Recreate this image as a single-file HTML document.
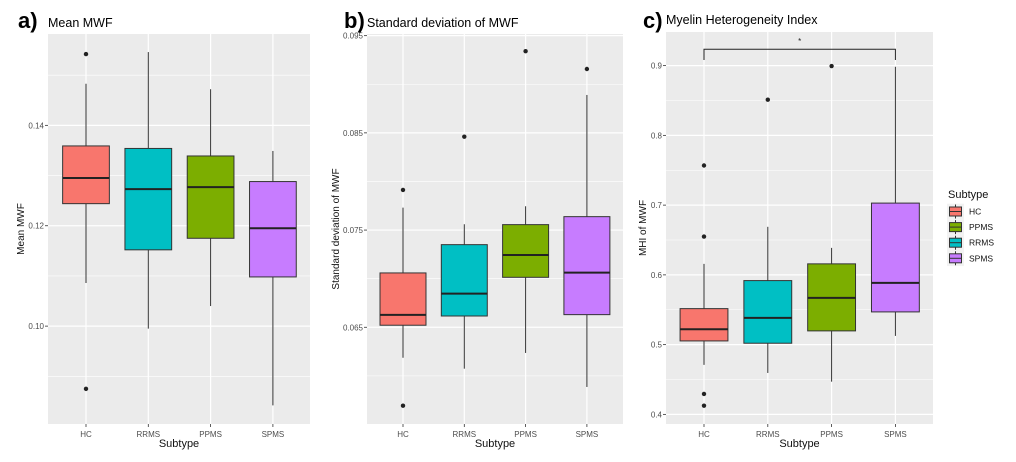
<!DOCTYPE html>
<html><head><meta charset="utf-8"><style>
body{margin:0;background:#fff;}
svg{display:block;font-family:"Liberation Sans",sans-serif;}
</style></head><body>
<svg id="chart" width="1016" height="462" viewBox="0 0 1016 462"></svg>
<script>
const categories = ["HC","RRMS","PPMS","SPMS"];
const colors = ["#F8766D","#00BFC4","#7CAE00","#C77CFF"];
// Panel a: Mean MWF  [low, q1, median, q3, high]
const statsA = [[0.1086,0.1244,0.1295,0.1359,0.1483],[0.0995,0.1152,0.1273,0.1354,0.1546],[0.1040,0.1175,0.1277,0.1339,0.1472],[0.0842,0.1098,0.1195,0.1288,0.1349]];
const outliersA = [[0.1542,0.0875],[],[],[]];
const ticksA = [0.10,0.12,0.14];
const tickLabelsA = ["0.10","0.12","0.14"];
// Panel b: SD of MWF
const statsB = [[0.06187,0.06521,0.06627,0.07059,0.07731],[0.06074,0.06616,0.06846,0.07350,0.07560],[0.06236,0.07014,0.07244,0.07556,0.07745],[0.05886,0.06630,0.07062,0.07638,0.08890]];
const outliersB = [[0.07913,0.05693],[0.08461],[0.09340],[0.09157]];
const ticksB = [0.065,0.075,0.085,0.095];
const tickLabelsB = ["0.065","0.075","0.085","0.095"];
// Panel c: MHI
const statsC = [[0.4709,0.5053,0.5221,0.5516,0.6158],[0.4594,0.5020,0.5383,0.5918,0.6689],[0.4469,0.5197,0.5670,0.6158,0.6387],[0.5125,0.5469,0.5885,0.7029,0.8984]];
const outliersC = [[0.7568,0.6549,0.4293,0.4125],[0.8511],[0.8994],[]];
const ticksC = [0.4,0.5,0.6,0.7,0.8,0.9];
const tickLabelsC = ["0.4","0.5","0.6","0.7","0.8","0.9"];
const legendOrder = ["HC","PPMS","RRMS","SPMS"];

const svg = document.getElementById('chart');
const NS = "http://www.w3.org/2000/svg";
function mk(tag, attrs, parent){const e=document.createElementNS(NS,tag);for(const k in attrs)e.setAttribute(k,attrs[k]);(parent||svg).appendChild(e);return e;}

function panel(p){
  const g = mk('g',{});
  
  
  const y = v => p.y1 - (v - p.vmin)/(p.vmax - p.vmin)*(p.y1 - p.y0);
  const x = i => p.xFirst + p.xStep*i;
  const bg = mk('rect',{x:p.x0,y:p.y0,width:p.x1-p.x0,height:p.y1-p.y0,fill:'#EBEBEB'},g);
  
  
  const tstep = p.ticks[1]-p.ticks[0];
  for(let v=p.ticks[0]-tstep/2; v<p.vmax; v+=tstep){ if(v>p.vmin) mk('line',{x1:p.x0,x2:p.x1,y1:y(v),y2:y(v),stroke:'#fff','stroke-width':0.6},g);}
  p.ticks.forEach((v,i)=>{
    mk('line',{x1:p.x0,x2:p.x1,y1:y(v),y2:y(v),stroke:'#fff','stroke-width':1.2},g);
    mk('line',{x1:p.x0-3,x2:p.x0,y1:y(v),y2:y(v),stroke:'#333','stroke-width':0.8},g);
    const t = mk('text',{x:p.x0-4,y:y(v)+3,'text-anchor':'end','font-size':8,fill:'#4D4D4D'},g);
    t.textContent = p.tickLabels[i];
    
    
  });
  categories.forEach((c,i)=>{
    mk('line',{x1:x(i),x2:x(i),y1:p.y0,y2:p.y1,stroke:'#fff','stroke-width':1.2},g);
    mk('line',{x1:x(i),x2:x(i),y1:p.y1,y2:p.y1+3,stroke:'#333','stroke-width':0.8},g);
    const t = mk('text',{x:x(i),y:p.y1+13,'text-anchor':'middle','font-size':8,fill:'#4D4D4D'},g);
    t.textContent = c;
    
    
  });
  const bw = p.xStep*0.75;
  p.stats.forEach((s,i)=>{
    const bg2 = mk('g',{},g);
    
    
    mk('line',{x1:x(i),x2:x(i),y1:y(s[0]),y2:y(s[1]),stroke:'#333','stroke-width':1},bg2);
    mk('line',{x1:x(i),x2:x(i),y1:y(s[3]),y2:y(s[4]),stroke:'#333','stroke-width':1},bg2);
    mk('rect',{x:x(i)-bw/2,y:y(s[3]),width:bw,height:y(s[1])-y(s[3]),fill:colors[i],stroke:'#333','stroke-width':1},bg2);
    mk('line',{x1:x(i)-bw/2,x2:x(i)+bw/2,y1:y(s[2]),y2:y(s[2]),stroke:'#222','stroke-width':2},bg2);
    p.outliers[i].forEach(o=>{
      const c = mk('circle',{cx:x(i),cy:y(o),r:2.2,fill:'#222'},bg2);
      
      
    });
  });
  const xt = mk('text',{x:(p.x0+p.x1)/2,y:p.y1+23,'text-anchor':'middle','font-size':11,fill:'#111'},g);
  xt.textContent='Subtype';
  
  
  const yt = mk('text',{x:0,y:0,'text-anchor':'middle','font-size':10,fill:'#111',transform:`translate(${p.yTitleX},${(p.y0+p.y1)/2}) rotate(-90)`},g);
  yt.textContent=p.yTitle;
  
  
  const lt = mk('text',{x:p.letterX,y:28,'font-size':22,fill:'#000','font-weight':'bold'},g);
  lt.textContent=p.letter;
  
  
  const tt = mk('text',{x:p.titleX,y:p.titleY,'font-size':12.5,fill:'#000'},g);
  tt.textContent=p.title;
  
  
  return {x,y,g};
}

panel({name:'panel-a',x0:48,x1:310,y0:34,y1:424,xFirst:86,xStep:62.3,vmin:0.0805,vmax:0.1582,ticks:ticksA,tickLabels:tickLabelsA,stats:statsA,outliers:outliersA,yTitle:'Mean MWF',yTitleX:24,letter:'a)',letterX:18,title:'Mean MWF',titleX:48,titleY:27});
panel({name:'panel-b',x0:367,x1:623,y0:34,y1:424,xFirst:403,xStep:61.3,vmin:0.05505,vmax:0.09517,ticks:ticksB,tickLabels:tickLabelsB,stats:statsB,outliers:outliersB,yTitle:'Standard deviation of MWF',yTitleX:339,letter:'b)',letterX:344,title:'Standard deviation of MWF',titleX:367,titleY:27});
const pc = panel({name:'panel-c',x0:666,x1:933,y0:32,y1:424,xFirst:704,xStep:63.8,vmin:0.3862,vmax:0.9482,ticks:ticksC,tickLabels:tickLabelsC,stats:statsC,outliers:outliersC,yTitle:'MHI of MWF',yTitleX:646,letter:'c)',letterX:643,title:'Myelin Heterogeneity Index',titleX:666,titleY:24});

const br = mk('path',{d:`M${pc.x(0)},60 V49.3 H${pc.x(3)} V60`,fill:'none',stroke:'#222','stroke-width':1});


const st = mk('text',{x:(pc.x(0)+pc.x(3))/2,y:44,'text-anchor':'middle','font-size':8,fill:'#222'});
st.textContent='*';



const lg = mk('g',{});


const ltitle = mk('text',{x:948,y:198,'font-size':11,fill:'#111'},lg);
ltitle.textContent='Subtype';


legendOrder.forEach((name,k)=>{
  const i = categories.indexOf(name);
  const cy = 211.5 + k*15.6;
  const e = mk('g',{},lg);
  
  
  mk('rect',{x:947,y:cy-7.8,width:17,height:15.6,fill:'#F2F2F2'},e);
  mk('line',{x1:955.5,x2:955.5,y1:cy-7,y2:cy+7,stroke:'#333','stroke-width':1},e);
  mk('rect',{x:949.5,y:cy-4.5,width:12,height:9,fill:colors[i],stroke:'#333','stroke-width':1},e);
  mk('line',{x1:949.5,x2:961.5,y1:cy,y2:cy,stroke:'#333','stroke-width':1},e);
  const t = mk('text',{x:969,y:cy+3,'font-size':8.5,fill:'#111'},e);
  t.textContent=name;
});
</script>
</body></html>
